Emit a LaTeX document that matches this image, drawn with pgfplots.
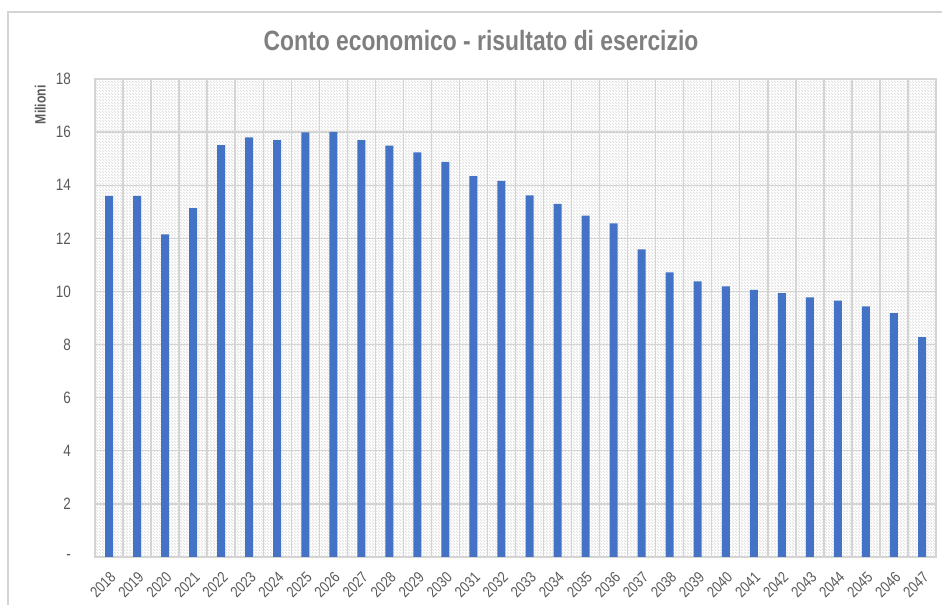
\documentclass[border=0pt]{standalone}
\usepackage{fontspec}
\usepackage{pgfplots}
\pgfplotsset{compat=1.18}
\usetikzlibrary{patterns}
\setmainfont[FakeStretch=0.82]{Liberation Sans}
\definecolor{barblue}{HTML}{4472C4}
\definecolor{gridgray}{HTML}{D4D4D4}
\definecolor{txtgray}{HTML}{595959}
\definecolor{titlegray}{HTML}{7F7F7F}
\pgfdeclarepatternformonly{finehatch}{\pgfqpoint{0bp}{0bp}}{\pgfqpoint{3bp}{3bp}}{\pgfqpoint{3bp}{3bp}}{%
  \pgfsetlinewidth{0.7bp}%
  \pgfpathmoveto{\pgfqpoint{-0.5bp}{3.5bp}}%
  \pgfpathlineto{\pgfqpoint{3.5bp}{-0.5bp}}%
  \pgfusepath{stroke}%
}
\begin{document}
\begin{tikzpicture}[x=1bp,y=1bp]
\path[use as bounding box] (0,0) rectangle (942,605);
\draw[gridgray, line width=1.5bp] (8,0) -- (8,593) -- (943,593);
\node[anchor=base, text=titlegray, font=\fontsize{28}{32}\selectfont\bfseries] at (481,554) {Conto economico - risultato di esercizio};
\begin{axis}[
  at={(95bp,48bp)}, anchor=south west,
  width=841bp, height=478bp, scale only axis,
  xmin=-0.5, xmax=29.5, ymin=0, ymax=18,
  ybar, bar width=8bp, bar shift=0pt,
  axis background/.style={pattern=finehatch, pattern color=black!16},
  axis line style={gridgray, line width=1.4bp},
  xtick={0,...,29},
  xticklabels={2018,2019,2020,2021,2022,2023,2024,2025,2026,2027,2028,2029,2030,2031,2032,2033,2034,2035,2036,2037,2038,2039,2040,2041,2042,2043,2044,2045,2046,2047},
  minor xtick={0.5,1.5,...,28.5},
  xminorgrids=true,
  minor x grid style={gridgray, line width=1.4bp},
  ytick={0,2,...,18},
  yticklabels={-\hspace{10bp},2,4,6,8,10,12,14,16,18},
  ymajorgrids=true,
  major y grid style={gridgray, line width=1.4bp},
  major tick length=0pt, minor tick length=0pt,
  tick style={draw=none},
  /pgf/number format/assume math mode=true,
  yticklabel style={font=\fontsize{16.5}{18}\selectfont, text=txtgray, inner sep=0pt, xshift=-24bp},
  xticklabel style={font=\fontsize{15.5}{17}\selectfont, text=txtgray, anchor=north east, inner sep=0pt, xshift=0bp, yshift=-14bp, rotate=45},
  ylabel={Milioni},
  ylabel style={at={(axis description cs:-0.065,0.946)}, anchor=center, rotate=0, font=\fontsize{15}{18}\selectfont\bfseries, text=txtgray},
]
\addplot[fill=barblue, draw=none] coordinates {
(0,13.6) (1,13.6) (2,12.15) (3,13.14) (4,15.51) (5,15.80) (6,15.70) (7,15.99) (8,16.01) (9,15.70)
(10,15.49) (11,15.24) (12,14.88) (13,14.34) (14,14.16) (15,13.62) (16,13.30) (17,12.85) (18,12.56) (19,11.58)
(20,10.72) (21,10.38) (22,10.19) (23,10.06) (24,9.94) (25,9.78) (26,9.65) (27,9.44) (28,9.18) (29,8.28)
};
\end{axis}
\end{tikzpicture}
\end{document}
